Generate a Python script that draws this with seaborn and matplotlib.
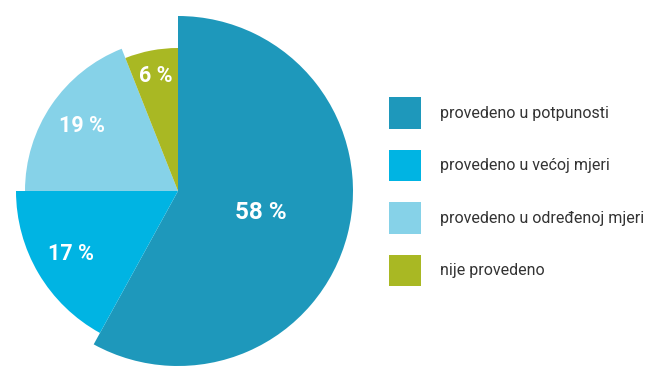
import numpy as np
import matplotlib
matplotlib.use("Agg")
import matplotlib.pyplot as plt
import seaborn as sns

# podaci
categories = ["provedeno u potpunosti", "provedeno u većoj mjeri",
              "provedeno u određenoj mjeri", "nije provedeno"]
values = [58, 17, 19, 6]
colors = ["#1e98bb", "#00b4e3", "#86d2e8", "#a9b823"]

sns.set_style("white")
plt.rcParams["font.family"] = ["Roboto", "DejaVu Sans"]

fig = plt.figure(figsize=(6.71, 3.82), dpi=100)
ax = fig.add_axes([0, 0, 1, 1])

# pie in pixel-like units, centre and radius of the largest slice
cx, cy, R = 178, 191, 175
wedges, _ = ax.pie(values, colors=colors, startangle=90, counterclock=False,
                   center=(cx, cy), radius=R,
                   wedgeprops=dict(linewidth=0))

# each slice a bit smaller than the one before
radii = [175, 162, 153, 143]
label_dist = [0.49, 0.77, 0.76, 0.82]
for w, r, d, v in zip(wedges, radii, label_dist, values):
    w.set_radius(r)
    mid = np.deg2rad((w.theta1 + w.theta2) / 2)
    ax.text(cx + np.cos(mid) * r * d, cy + np.sin(mid) * r * d, f"{v} %",
            ha="center", va="center", color="white", fontsize=17.5 if v == 58 else 15.5,
            fontweight="bold")

ax.set_xlim(0, 671)
ax.set_ylim(0, 382)
ax.set_aspect("equal")
ax.axis("off")

leg = ax.legend(wedges, categories, loc="upper left",
                bbox_to_anchor=(389, 382 - 97), bbox_transform=ax.transData,
                frameon=False, fontsize=11.5, handlelength=2.0, handleheight=2.68,
                handletextpad=1.2, labelspacing=1.3, borderpad=0, borderaxespad=0)
for t in leg.get_texts():
    t.set_color("#333333")

fig.savefig("out.png", dpi=100)
